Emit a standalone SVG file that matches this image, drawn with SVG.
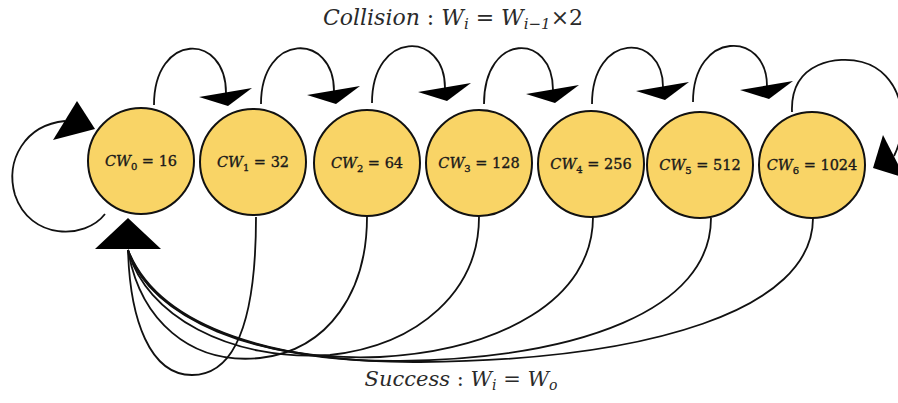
<svg xmlns="http://www.w3.org/2000/svg" xmlns:xlink="http://www.w3.org/1999/xlink" width="898" height="403" viewBox="0 0 898 403">
<style>
.node{fill:#F9D466;stroke:#111;stroke-width:2}
.lbl{font-family:"DejaVu Serif","Liberation Serif",serif;font-size:14.5px;fill:#1a1a1a;stroke:#1a1a1a;stroke-width:0.35;text-anchor:middle}
.it{font-style:italic}
.edge{fill:none;stroke:#111;stroke-width:1.8}
.head{fill:#000}
.cap{font-family:"DejaVu Serif","Liberation Serif",serif;fill:#2a2a2a;text-anchor:middle}
</style>
<defs>
<path id="topHead" d="M-27,4 L26,-5 L2,13 Z"/>
</defs>
<rect width="898" height="403" fill="#fff"/>
<g id="connectors">
  <path class="edge" d="M154,105 C154,32 226,32 226,93"/>
  <path class="edge" d="M261,104 C261,32 334,32 334,91"/>
  <path class="edge" d="M372,103 C372,30 445,30 445,88"/>
  <path class="edge" d="M484,104 C484,32 553,32 553,90"/>
  <path class="edge" d="M592,104 C592,32 663,32 663,87"/>
  <path class="edge" d="M693,102 C693,30 767,30 767,86"/>
  <use href="#topHead" class="head" x="226" y="93"/>
  <use href="#topHead" class="head" x="334" y="91"/>
  <use href="#topHead" class="head" x="445" y="88"/>
  <use href="#topHead" class="head" x="553" y="90"/>
  <use href="#topHead" class="head" x="663" y="87"/>
  <use href="#topHead" class="head" x="767" y="86"/>
  <path class="edge" d="M105,214 C85,240 30,240 15,195 C5,160 25,125 65,121"/>
  <polygon class="head" points="77,101 53,140 95,129"/>
  <path class="edge" d="M792,112 C790,60 840,56 862,62 C900,72 912,120 894,156"/>
  <polygon class="head" points="883,135 905,178 873,168"/>
  <path class="edge" d="M256,217 C256,320 235,375 192,375 C150,375 130,320 128,250"/>
  <path class="edge" d="M367,217 C367,290 330,350 260,358 C190,365 140,320 128,250"/>
  <path class="edge" d="M479,217 C479,290 420,345 330,355 C230,362 145,315 128,250"/>
  <path class="edge" d="M593,217 C593,300 500,350 380,357 C260,362 150,320 128,250"/>
  <path class="edge" d="M711,218 C711,310 580,358 400,361 C270,362 155,325 128,250"/>
  <path class="edge" d="M813,218 C813,310 650,360 420,362 C280,363 160,330 128,250"/>
  <polygon class="head" points="128,218 95,249 161,249"/>
</g>
<g id="n0"><circle class="node" cx="141" cy="161" r="53"/><text class="lbl" x="141" y="166"><tspan class="it">CW</tspan><tspan dy="4" font-size="10">0</tspan><tspan dy="-4"> = 16</tspan></text></g>
<g id="n1"><circle class="node" cx="253" cy="162" r="53"/><text class="lbl" x="253" y="167"><tspan class="it">CW</tspan><tspan dy="4" font-size="10">1</tspan><tspan dy="-4"> = 32</tspan></text></g>
<g id="n2"><circle class="node" cx="367" cy="163" r="53"/><text class="lbl" x="367" y="168"><tspan class="it">CW</tspan><tspan dy="4" font-size="10">2</tspan><tspan dy="-4"> = 64</tspan></text></g>
<g id="n3"><circle class="node" cx="479" cy="163" r="53"/><text class="lbl" x="479" y="168"><tspan class="it">CW</tspan><tspan dy="4" font-size="10">3</tspan><tspan dy="-4"> = 128</tspan></text></g>
<g id="n4"><circle class="node" cx="591" cy="164" r="53"/><text class="lbl" x="591" y="169"><tspan class="it">CW</tspan><tspan dy="4" font-size="10">4</tspan><tspan dy="-4"> = 256</tspan></text></g>
<g id="n5"><circle class="node" cx="700" cy="165" r="53"/><text class="lbl" x="700" y="170"><tspan class="it">CW</tspan><tspan dy="4" font-size="10">5</tspan><tspan dy="-4"> = 512</tspan></text></g>
<g id="n6"><circle class="node" cx="812" cy="165" r="53"/><text class="lbl" x="812" y="170"><tspan class="it">CW</tspan><tspan dy="4" font-size="10">6</tspan><tspan dy="-4"> = 1024</tspan></text></g>
<g id="labels">
  <text class="cap" x="453" y="25" font-size="22"><tspan class="it">Collision</tspan> :  <tspan class="it">W</tspan><tspan class="it" dy="4" font-size="15">i</tspan><tspan dy="-4"> = </tspan><tspan class="it">W</tspan><tspan class="it" dy="4" font-size="15">i−1</tspan><tspan dy="-4">×2</tspan></text>
  <text class="cap" x="461" y="386" font-size="21"><tspan class="it">Success</tspan> : <tspan class="it">W</tspan><tspan class="it" dy="4" font-size="14">i</tspan><tspan dy="-4"> = </tspan><tspan class="it">W</tspan><tspan class="it" dy="4" font-size="14">o</tspan></text>
</g>
</svg>
